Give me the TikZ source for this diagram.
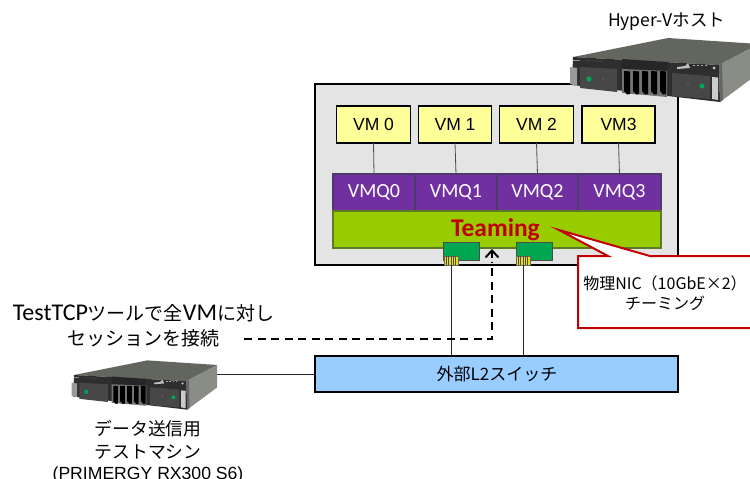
\documentclass[tikz,border=0pt]{standalone}
\usepackage{fontspec}
\usetikzlibrary{arrows.meta}
\setmainfont{Liberation Sans}
\newfontfamily\jpf{Noto Sans CJK JP}
\newfontfamily\clf{Carlito}
\newcommand{\fsz}[1]{\fontsize{#1}{#1}\selectfont}
\definecolor{hostgray}{HTML}{E4E4E4}
\definecolor{vmyellow}{HTML}{FFFF99}
\definecolor{vmqpurple}{HTML}{7030A0}
\definecolor{vmqedge}{HTML}{4B3A6B}
\definecolor{teamgreen}{HTML}{99CC00}
\definecolor{teamedge}{HTML}{5F7A24}
\definecolor{nicgreen}{HTML}{00A650}
\definecolor{switchblue}{HTML}{99CCFF}
\definecolor{callred}{HTML}{C00000}
\definecolor{srvtop}{HTML}{63665F}
\definecolor{srvside}{HTML}{8A8D86}
\definecolor{srvfront}{HTML}{2E2E2E}
\tikzset{
  boxbase/.style={draw,rectangle,inner sep=0pt,outer sep=0pt},
  hostbox/.style={boxbase,line width=1.3pt,fill=hostgray,minimum width=363pt,minimum height=181pt},
  vmbox/.style={boxbase,line width=1.2pt,fill=vmyellow,minimum height=37pt,font=\fsz{17.5}},
  vmqbox/.style={boxbase,draw=vmqedge,line width=1.6pt,fill=vmqpurple,text=white,minimum height=37pt,font=\clf\fsz{20}},
  teambox/.style={boxbase,draw=teamedge,line width=1.6pt,fill=teamgreen,minimum width=328pt,minimum height=37pt},
  nicbox/.style={boxbase,draw=black!70,line width=.6pt,fill=nicgreen,minimum width=36pt,minimum height=18pt},
  pinbox/.style={boxbase,draw=black!60,line width=.5pt,fill=yellow!90!black,minimum width=14pt,minimum height=9pt},
  switchbox/.style={boxbase,line width=1.2pt,fill=switchblue,minimum width=363pt,minimum height=36pt},
  thinline/.style={draw=black!85,line width=.8pt},
  dashline/.style={line width=2pt,dash pattern=on 8pt off 5.5pt},
  jptext/.style={inner sep=0pt,align=center,font=\jpf},
  server/.pic={
    \fill[srvtop] (0,0) -- (95,-19) -- (186,-13) -- (146,8) -- cycle;
    \fill[srvside] (146,8) -- (186,-13) -- (186,16) -- (147,45) -- cycle;
    \fill[srvfront] (0,0) -- (146,8) -- (147,45) -- (-1,28) -- cycle;
    \fill[black!60] (146,8) -- (147,45) -- (150,43) -- (149,6) -- cycle;
    \fill[black!45] (0,3) -- (7,3) -- (7,4) -- (0,4) -- cycle;
    \fill[black!75] (12,3) -- (30,4) -- (30,5) -- (12,4) -- cycle;
    \fill[black!72] (7,10) -- (44,12) -- (44,35) -- (7,31) -- cycle;
    \fill[black!40] (-3,10) -- (4,11) -- (4,29) -- (-3,27) -- cycle;
    \fill[teal!70!green] (16,22) circle (2.6);
    \fill[black!50] (30,22) circle (.7);
    \fill[black!85] (49,2) -- (94,5) -- (94,14) -- (49,12) -- cycle;
    \fill[black!55] (49,12) -- (94,14) -- (94,40) -- (49,36) -- cycle;
    \foreach \bx in {51,60,69,78,87}{
      \fill[black] (\bx,14) -- (\bx+6,14.4) -- (\bx+6,37) -- (\bx+3,37.5) -- (\bx,34) -- cycle;
    }
    \fill[black!72] (99,16) -- (137,19) -- (137,42) -- (99,39) -- cycle;
    \fill[teal!70!green] (129,29) circle (2.6);
    \fill[black!50] (115,27) circle (.7);
    \fill[black!20] (139,20) -- (145,20.5) -- (145,43) -- (139,42) -- cycle;
    \fill[black!25] (104,10) -- (112,9) -- (115,6) -- (117,11) -- (104,12) -- cycle;
    \foreach \sx in {120,124,128,132}{\fill[black!35] (\sx,8) rectangle ++(2,1);}
    \fill[black!20] (141,11) circle (1.5);
  }
}
\begin{document}
\begin{tikzpicture}[x=1pt,y=-1pt]
\useasboundingbox (0,0) rectangle (750,479);
\clip (0,0) rectangle (750,479);
\fill[white] (0,0) rectangle (750,479);

% host
\node[hostbox] (host) at (496.5,174.5) {};
\pic at (573,57) {server};
\node[jptext,font=\jpf\fsz{17.5}] (hostlabel) at (666.5,22) {Hyper-Vホスト};

% VMs
\node[vmbox,minimum width=73.5pt] (vm0) at (373.5,124.5) {VM 0};
\node[vmbox,minimum width=73.5pt] (vm1) at (455,124.5) {VM 1};
\node[vmbox,minimum width=73.5pt] (vm2) at (536.5,124.5) {VM 2};
\node[vmbox,minimum width=73pt] (vm3) at (618.5,124.5) {VM3};

% VMQ
\node[vmqbox,minimum width=82pt] (vmq0) at (374,192.5) {VMQ0};
\node[vmqbox,minimum width=82pt] (vmq1) at (456,192.5) {VMQ1};
\node[vmqbox,minimum width=81pt] (vmq2) at (537.5,192.5) {VMQ2};
\node[vmqbox,minimum width=83pt] (vmq3) at (619.5,192.5) {VMQ3};
\foreach \n in {0,1,2,3}{\draw[thinline,draw=black!70] (vm\n.south) -- (vmq\n.north);}

% teaming
\node[teambox] (team) at (497,229.5) {};
\node[inner sep=0pt,text=callred,font=\clf\bfseries\fsz{25.5}] (teamlabel) at (495.5,230) {Teaming};

% NICs
\node[nicbox] (nic1) at (461,251) {};
\node[nicbox] (nic2) at (534,251) {};
\node[pinbox] (pin1) at (451,260.5) {};
\node[pinbox] (pin2) at (523,260.5) {};
\foreach \p in {pin1,pin2}{
  \foreach \o in {-4.5,-2.25,0,2.25,4.5}{
    \draw[black!70,line width=.7pt] ([xshift=\o pt]\p.north) -- ([xshift=\o pt]\p.south);
  }
}

% switch
\node[switchbox] (switch) at (496.5,374) {};
\node[jptext,font=\jpf\fsz{17}] (switchlabel) at (497,374) {外部L2スイッチ};
\draw[thinline] (pin1.south) -- (pin1.south |- switch.north);
\draw[thinline] (pin2.south) -- (pin2.south |- switch.north);

% small server
\pic[scale=.77] at (74,375) {server};
\coordinate (srvport) at (217,374);
\draw[thinline] (srvport) -- (srvport -| switch.west);
\node[jptext,font=\jpf\fsz{17.8}] (srvlabel) at (148,451.5) {データ送信用\\[5pt]テストマシン\\[3pt]{\rmfamily\fsz{17.6}(PRIMERGY RX300 S6)}};

% test text and dashed arrow
\node[jptext,font=\jpf\fsz{19}] (tooltext) at (143.5,326) {{\clf\fsz{24}TestTCP}ツールで全{\clf\fsz{24}VM}に対し\\[6pt]セッションを接続};
\coordinate (dashstart) at (244,338.5);
\coordinate (dashcorner) at (492,338.5);
\coordinate (dashend) at (492,262);
\coordinate (tipbase) at (492,258);
\coordinate (tipend) at (492,249);
\draw[dashline] (dashstart) -- (dashcorner) -- (dashend);
\draw[line width=2pt,-{Straight Barb[length=7pt,width=13pt,line width=2pt]}] (tipbase) -- (tipend);

% callout
\node[inner sep=0pt] (calltip) at (559,230) {};
\draw[draw=callred,fill=white,line width=2pt,line join=miter]
  (calltip.center) -- (608,256) -- (578,256) -- (578,328) -- (760,328) -- (760,256) -- (650,256) -- cycle;
\node[jptext,font=\jpf\fsz{16},text width=180pt] (calltext) at (665,293) {物理NIC（10GbE×2）\\[4pt]チーミング};
\end{tikzpicture}
\end{document}
